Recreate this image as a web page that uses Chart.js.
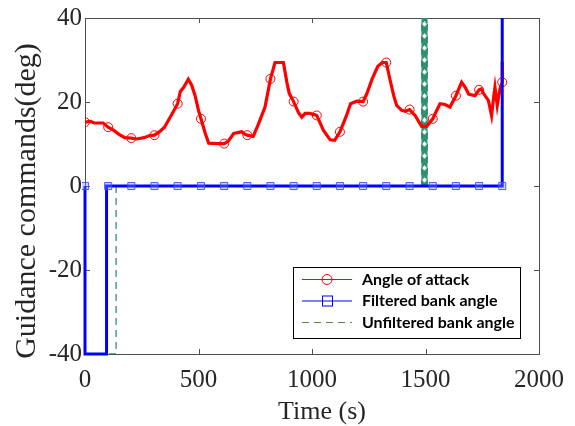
<!DOCTYPE html>
<html>
<head>
<meta charset="utf-8">
<script src="https://cdn.jsdelivr.net/npm/chart.js"></script>
<style>
  html, body { margin: 0; padding: 0; background: #fff; }
  #wrap { width: 575px; height: 426px; }
</style>
</head>
<body>
<div id="wrap"><canvas id="guidance"></canvas></div>
<script>
// sample times that carry a marker on both command curves
const markerTimes = [0, 102, 204, 306, 408, 511, 613, 715, 817, 919, 1021, 1123, 1225, 1327, 1430, 1532, 1634, 1736, 1838]

// angle of attack command (deg)
const aoaTime = [0, 25, 40, 80, 102, 125, 150, 175, 204, 228, 260, 285, 306, 330, 350, 367, 390, 408,
  420, 435, 455, 470, 485, 500, 511, 530, 545, 580, 613, 630, 655, 690, 705, 715, 741, 763, 793, 817,
  837, 874, 890, 900, 919, 940, 955, 970, 990, 1010, 1021, 1050, 1080, 1100, 1123, 1150, 1170, 1197,
  1225, 1241, 1265, 1290, 1310, 1327, 1345, 1360, 1373, 1395, 1412, 1430, 1454, 1483, 1505, 1532,
  1545, 1564, 1586, 1608, 1634, 1659, 1675, 1690, 1718, 1736, 1745, 1762, 1777, 1791, 1800, 1806,
  1816, 1828, 1838, 1838]
const aoaDeg = [15.2, 15.4, 15.0, 15.0, 14.0, 13.3, 12.3, 11.5, 11.4, 11.2, 11.5, 12.0, 12.1, 13.0, 14.0, 15.6, 17.8, 19.6,
  22.5, 23.5, 25.4, 24.0, 21.5, 18.0, 16.0, 12.5, 10.2, 10.1, 10.1, 10.6, 12.5, 12.9, 12.3, 12.1, 11.8, 14.6, 18.8, 25.5,
  29.4, 29.4, 24.5, 22.0, 20.1, 17.5, 16.4, 17.3, 17.3, 17.0, 16.8, 13.3, 11.0, 10.9, 12.9, 16.5, 19.6, 20.2,
  20.1, 21.9, 25.5, 28.5, 29.4, 29.4, 25.0, 21.5, 19.2, 18.0, 17.8, 18.2, 16.8, 14.2, 14.2, 16.0,
  17.5, 19.6, 19.4, 18.8, 21.5, 24.7, 23.5, 21.9, 21.5, 22.9, 23.1, 21.5, 20.4, 16.8, 21.0, 23.5,
  19.2, 23.1, 24.7, 29.6]

// filtered bank angle command (deg)
const bankTime = [0, 0, 95, 95, 102, 204, 306, 408, 511, 613, 715, 817, 919, 1021, 1123, 1225, 1327, 1430, 1532, 1634, 1736, 1838, 1838]
const bankDeg = [0, -40, -40, 0, 0, 0, 0, 0, 0, 0, 0, 0, 0, 0, 0, 0, 0, 0, 0, 0, 0, 0, 60]

// unfiltered bank angle command (deg), chattering near 1490 s
const rawTime = [0, 137, 137, 1483, 1483, 1485, 1485, 1488, 1488, 1491, 1491, 1494, 1494,
  1497, 1497, 1500, 1500, 1503, 1503, 1506, 1506, 1508, 1508, 1838]
const rawDeg = [-40, -40, 0, 0, 60, 60, 0, 0, 60, 60, 0, 0, 60,
  60, 0, 0, 60, 60, 0, 0, 60, 60, 0, 0]

const xTicks = [0, 500, 1000, 1500, 2000]
const yTicks = [-40, -20, 0, 20, 40]

const toPoints = (xs, ys) => xs.map((x, i) => ({ x, y: ys[i] }))

// radius only on the first sample that falls on a marker time
const markerRadius = (times, r) => ctx => {
  const t = times[ctx.dataIndex]
  return markerTimes.includes(t) && times.indexOf(t) === ctx.dataIndex ? r : 0
}

const RED = '#ff0000'
const BLUE = '#0000ff'
const GREEN = '#2f9070'
const AXIS = '#262626'
const SERIF = '"Liberation Serif", "Times New Roman", serif'

// box with inward tick marks on all four sides
const framePlugin = {
  id: 'frame',
  beforeDatasetsDraw(chart) {
    const { ctx, chartArea: a, scales } = chart
    ctx.save()
    ctx.strokeStyle = '#505050'
    ctx.lineWidth = 1
    ctx.strokeRect(Math.round(a.left) + 0.5, Math.round(a.top) + 0.5, Math.round(a.right - a.left), Math.round(a.bottom - a.top))
    ctx.beginPath()
    xTicks.forEach(v => {
      const px = Math.round(scales.x.getPixelForValue(v)) + 0.5
      ctx.moveTo(px, a.bottom); ctx.lineTo(px, a.bottom - 5)
      ctx.moveTo(px, a.top); ctx.lineTo(px, a.top + 5)
    })
    yTicks.forEach(v => {
      const py = Math.round(scales.y.getPixelForValue(v)) + 0.5
      ctx.moveTo(a.left, py); ctx.lineTo(a.left + 5, py)
      ctx.moveTo(a.right, py); ctx.lineTo(a.right - 5, py)
    })
    ctx.stroke()
    ctx.restore()
  }
}

// axis titles
const titlePlugin = {
  id: 'axisTitles',
  afterDraw(chart) {
    const { ctx } = chart
    ctx.save()
    ctx.fillStyle = AXIS
    ctx.textAlign = 'center'
    ctx.textBaseline = 'alphabetic'
    ctx.font = '26px ' + SERIF
    ctx.fillText('Time (s)', 322, 419)
    ctx.translate(35, 201)
    ctx.rotate(-Math.PI / 2)
    ctx.font = '30px ' + SERIF
    ctx.fillText('Guidance commands(deg)', 0, 0)
    ctx.restore()
  }
}

// legend box in the lower right of the plot
const legendPlugin = {
  id: 'boxLegend',
  afterDraw(chart) {
    const { ctx } = chart
    const items = [
      { label: 'Angle of attack', color: RED, marker: 'circle' },
      { label: 'Filtered bank angle', color: BLUE, marker: 'rect' },
      { label: 'Unfiltered bank angle', color: '#4f8f3f', dash: [7, 5] }
    ]
    const box = { x: 293.5, y: 267.5, w: 227, h: 71 }
    ctx.save()
    ctx.fillStyle = '#fff'
    ctx.fillRect(box.x, box.y, box.w, box.h)
    ctx.strokeStyle = '#000'
    ctx.lineWidth = 1
    ctx.strokeRect(box.x, box.y, box.w, box.h)
    items.forEach((it, i) => {
      const y = 279.5 + i * 21.5
      ctx.strokeStyle = it.color
      ctx.lineWidth = 1
      ctx.setLineDash(it.dash || [])
      ctx.beginPath()
      ctx.moveTo(302, y); ctx.lineTo(352, y)
      ctx.stroke()
      ctx.setLineDash([])
      if (it.marker === 'circle') {
        ctx.beginPath()
        ctx.arc(327, y, 5, 0, Math.PI * 2)
        ctx.stroke()
      } else if (it.marker === 'rect') {
        ctx.strokeRect(322.5, y - 5, 10, 10)
      }
      ctx.fillStyle = '#000'
      ctx.font = 'bold 16px Lato'
      ctx.textAlign = 'left'
      ctx.textBaseline = 'middle'
      ctx.fillText(it.label, 362, y)
    })
    ctx.restore()
  }
}

new Chart(document.getElementById('guidance'), {
  type: 'line',
  data: {
    datasets: [
      {
        label: 'Angle of attack',
        data: toPoints(aoaTime, aoaDeg),
        borderColor: RED,
        borderWidth: 3.2,
        pointStyle: 'circle',
        pointRadius: markerRadius(aoaTime, 4.5),
        pointBorderColor: RED,
        pointBorderWidth: 1,
        pointBackgroundColor: 'rgba(0,0,0,0)',
        order: 1
      },
      {
        label: 'Filtered bank angle',
        data: toPoints(bankTime, bankDeg),
        borderColor: BLUE,
        borderWidth: 3,
        pointStyle: 'rect',
        pointRadius: markerRadius(bankTime, 5),
        pointBorderColor: 'rgba(60,80,255,0.9)',
        pointBorderWidth: 1,
        pointBackgroundColor: 'rgba(120,140,255,0.35)',
        clip: { left: 3, right: 3, top: 0, bottom: 3 },
        order: 0
      },
      {
        label: 'Unfiltered bank angle',
        data: toPoints(rawTime, rawDeg),
        borderColor: GREEN,
        borderWidth: 1.3,
        borderDash: [7, 5],
        pointRadius: 0,
        order: 2
      }
    ]
  },
  options: {
    responsive: true,
    maintainAspectRatio: false,
    animation: false,
    events: [],
    elements: { line: { tension: 0 } },
    layout: { padding: { top: 16, right: 36, left: 0, bottom: 0 } },
    plugins: {
      legend: { display: false },
      tooltip: { enabled: false }
    },
    scales: {
      x: {
        type: 'linear',
        min: 0,
        max: 2000,
        afterFit: s => { s.height = 72 },
        afterBuildTicks: s => { s.ticks = xTicks.map(v => ({ value: v })) },
        grid: { display: false, drawTicks: false },
        border: { display: false },
        ticks: {
          color: AXIS,
          padding: 11,
          maxRotation: 0,
          font: { family: SERIF, size: 25 },
          callback: v => String(v)
        }
      },
      y: {
        type: 'linear',
        min: -40,
        max: 40,
        afterFit: s => { s.width = 85 },
        afterBuildTicks: s => { s.ticks = yTicks.map(v => ({ value: v })) },
        grid: { display: false, drawTicks: false },
        border: { display: false },
        ticks: {
          color: AXIS,
          padding: 3,
          font: { family: SERIF, size: 25 },
          callback: v => String(v)
        }
      }
    }
  },
  plugins: [framePlugin, legendPlugin, titlePlugin]
})
</script>
</body>
</html>
